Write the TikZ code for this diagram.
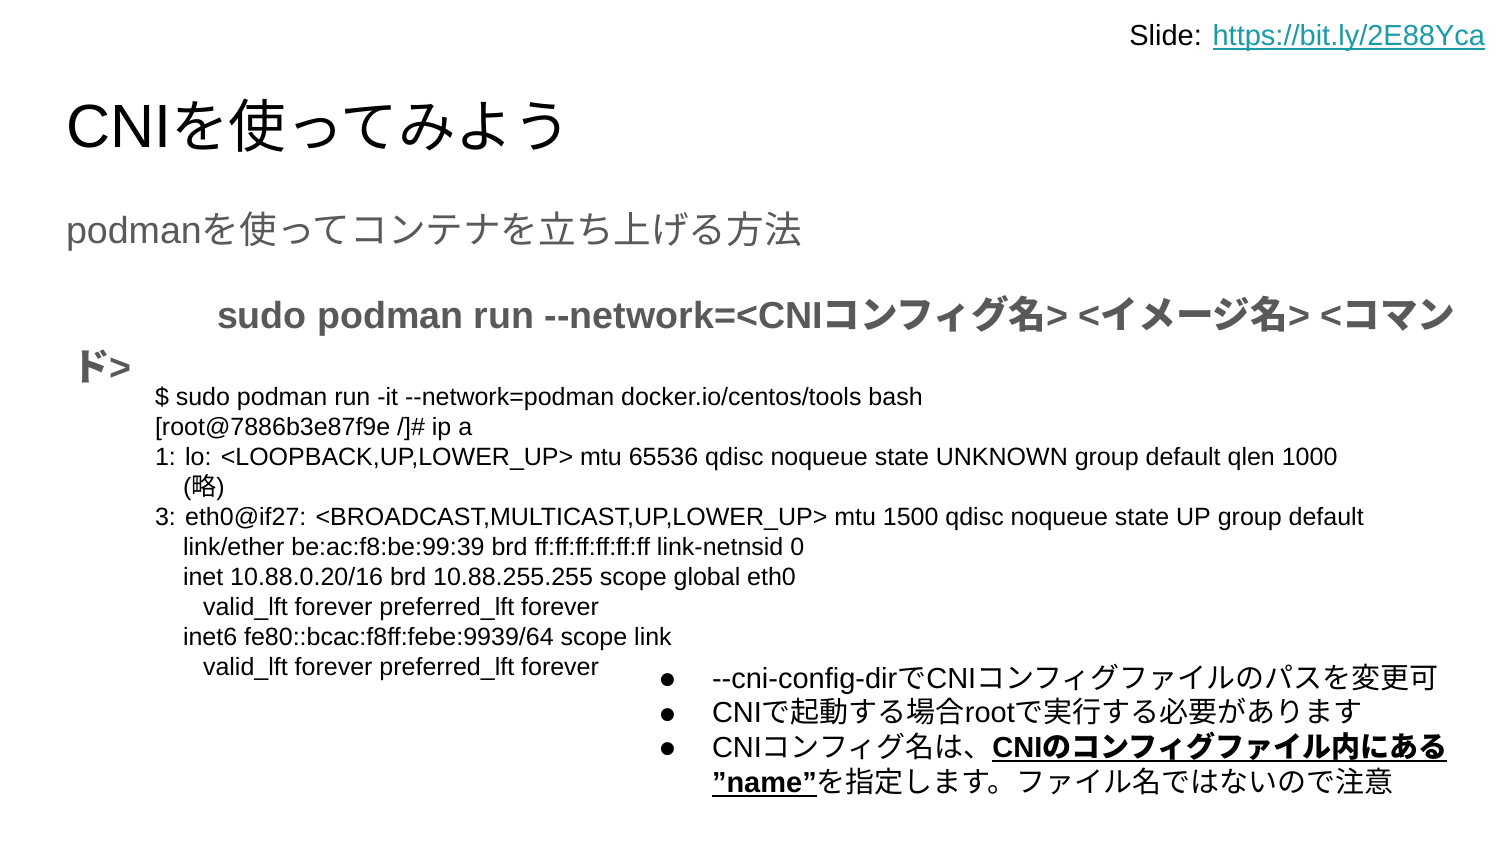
\documentclass[tikz,border=0pt]{standalone}
\usepackage{fontspec}
\setmainfont{Liberation Sans}[Ligatures=TeXOff]
\newfontfamily\jp{Noto Sans CJK JP}
\newfontfamily\dv{DejaVu Sans}
\definecolor{subgray}{HTML}{595959}
\definecolor{linkteal}{HTML}{1A9BA8}
\newcommand\myul[1]{\setbox0\hbox{#1}\rlap{\rule[-5pt]{\wd0}{2.4pt}}\box0}
\tikzset{
  txt/.style={anchor=base west, inner sep=0pt, outer sep=0pt},
  code/.style={txt, font=\fontsize{25}{30}\selectfont},
  bul/.style={txt, font=\fontsize{29}{35}\selectfont},
  dot/.style={txt, font=\dv\fontsize{17}{20}\selectfont},
}
\begin{document}
\begin{tikzpicture}[x=1pt,y=-1pt]
\useasboundingbox[fill=white] (0,0) rectangle (1500,844);
\node[txt, anchor=base east, font=\fontsize{29}{32}\selectfont] (slide) at (1485,45)
  {Slide: \textcolor{linkteal}{\myul{https://bit.ly/2E88Yca}}};
\node[txt, font=\fontsize{61}{70}\selectfont] (title) at (66,147) {CNI{\jp\fontsize{57.5}{70}\selectfont を使ってみよう}};
\node[txt, text=subgray, font=\fontsize{37.6}{40}\selectfont] (sub) at (66,243) {podman{\jp を使ってコンテナを立ち上げる方法}};
\node[txt, text=subgray, font=\bfseries\fontsize{37.6}{40}\selectfont] (cmd1) at (217,328)
  {sudo podman run --network=<CNI{\jp コンフィグ名}> <{\jp イメージ名}> <{\jp コマン}};
\node[txt, text=subgray, font=\bfseries\fontsize{37.6}{40}\selectfont] (cmd2) at (72,380) {{\jp ド}>};
\node[code] (c1) at (155,405) {\$ sudo podman run -it --network=podman docker.io/centos/tools bash};
\node[code] (c2) at (155,435) {[root@7886b3e87f9e /]\# ip a};
\node[code] (c3) at (155,465) {1: lo: <LOOPBACK,UP,LOWER\_UP> mtu 65536 qdisc noqueue state UNKNOWN group default qlen 1000};
\node[code] (c4) at (183,495) {({\jp 略})};
\node[code] (c5) at (155,525) {3: eth0@if27: <BROADCAST,MULTICAST,UP,LOWER\_UP> mtu 1500 qdisc noqueue state UP group default};
\node[code] (c6) at (183,555) {link/ether be:ac:f8:be:99:39 brd ff:ff:ff:ff:ff:ff link-netnsid 0};
\node[code] (c7) at (183,585) {inet 10.88.0.20/16 brd 10.88.255.255 scope global eth0};
\node[code] (c8) at (203,615) {valid\_lft forever preferred\_lft forever};
\node[code] (c9) at (183,645) {inet6 fe80::bcac:f8ff:febe:9939/64 scope link};
\node[code] (c10) at (203,675) {valid\_lft forever preferred\_lft forever};
\node[dot] (b1d) at (660,684) {●};
\node[bul] (b1) at (712,688) {--cni-config-dir{\jp で}CNI{\jp コンフィグファイルのパスを変更可}};
\node[dot] (b2d) at (660,719) {●};
\node[bul] (b2) at (712,722) {CNI{\jp で起動する場合}root{\jp で実行する必要があります}};
\node[dot] (b3d) at (660,753) {●};
\node[bul] (b3) at (712,757) {CNI{\jp コンフィグ名は、}\myul{\bfseries CNI{\jp のコンフィグファイル内にある}}};
\node[bul] (b4) at (712,792) {\myul{\bfseries ”name”}{\jp を指定します。ファイル名ではないので注意}};
\end{tikzpicture}
\end{document}
